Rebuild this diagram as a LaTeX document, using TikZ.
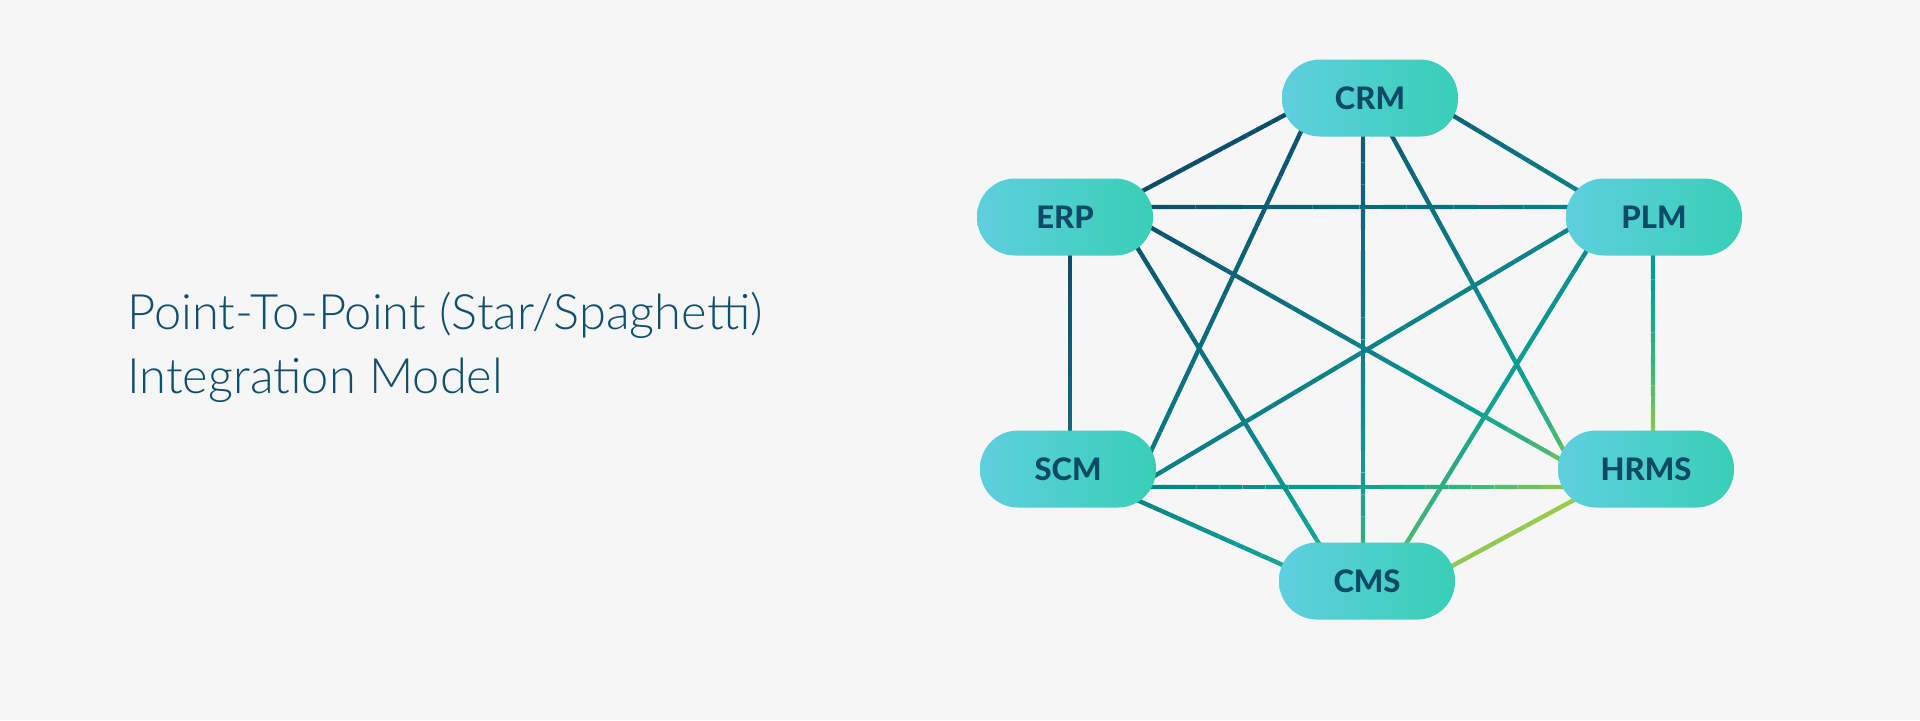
\documentclass[tikz,border=0pt]{standalone}
\usepackage{fontspec}
\setmainfont{Lato}
\newfontfamily\titlefont{Lato Light}
\newfontfamily\labelfont{Lato Heavy}
\usetikzlibrary{calc}

\definecolor{bgcol}{HTML}{F6F6F6}
\definecolor{ink}{HTML}{0C4A66}
\definecolor{titleink}{HTML}{10506C}
\definecolor{pillL}{HTML}{5ECFDF}
\definecolor{pillR}{HTML}{38CFB6}
% stops of the link gradient (top left to bottom right)
\definecolor{lnA}{HTML}{0B4A6A}
\definecolor{lnB}{HTML}{0B8088}
\definecolor{lnC}{HTML}{0AA096}
\definecolor{lnD}{HTML}{3CB47A}
\definecolor{lnE}{HTML}{8CC850}
\definecolor{lnF}{HTML}{9DCF4A}

\pgfdeclarelayer{bg}
\pgfdeclarelayer{edges}
\pgfsetlayers{bg,edges,main}

\tikzset{
  sysbox/.style={rectangle, rounded corners=19pt, minimum width=88pt,
    minimum height=38.5pt, inner sep=0pt, left color=pillL, right color=pillR,
    text=ink, font=\labelfont\fontsize{15.5pt}{18pt}\selectfont},
  link/.style={line width=2.2pt},
  heading/.style={anchor=base west, inner sep=0pt, text=titleink,
    font=\titlefont\fontsize{24.4pt}{32pt}\selectfont}
}

% position along the gradient: x + 1.5 y (in px, y down)
\newdimen\gx
\newdimen\gy
\newcommand\tvalof[2]{%
  \pgfextractx{\gx}{\pgfpointanchor{#1}{center}}%
  \pgfextracty{\gy}{\pgfpointanchor{#1}{center}}%
  \pgfmathsetmacro#2{2*\gx-3*\gy}}

\newcommand\segcolor[1]{%
  \pgfmathsetmacro\gtv{max(1420,min(2340,#1))}%
  \ifdim\gtv pt<1880pt
    \pgfmathsetmacro\gmix{(1880-\gtv)/460*100}\colorlet{segc}{lnA!\gmix!lnB}%
  \else\ifdim\gtv pt<2090pt
    \pgfmathsetmacro\gmix{(2090-\gtv)/210*100}\colorlet{segc}{lnB!\gmix!lnC}%
  \else\ifdim\gtv pt<2200pt
    \pgfmathsetmacro\gmix{(2200-\gtv)/110*100}\colorlet{segc}{lnC!\gmix!lnD}%
  \else\ifdim\gtv pt<2300pt
    \pgfmathsetmacro\gmix{(2300-\gtv)/100*100}\colorlet{segc}{lnD!\gmix!lnE}%
  \else
    \pgfmathsetmacro\gmix{(2340-\gtv)/40*100}\colorlet{segc}{lnE!\gmix!lnF}%
  \fi\fi\fi\fi}

% link from node #1 (+ offset #2) to node #3 (+ offset #4)
\newcommand\gradline[4]{%
  \coordinate (ga) at ($(#1)+(#2)$);
  \coordinate (gb) at ($(#3)+(#4)$);
  \tvalof{ga}\gta
  \tvalof{gb}\gtb
  \foreach \i in {1,...,20}{%
    \segcolor{\gta+(\gtb-\gta)/20*(\i-0.5)}
    \draw[link, draw=segc] ($(ga)!{(\i-1)/20}!(gb)$) -- ($(ga)!{\i/20}!(gb)$);
  }}

\begin{document}
\begin{tikzpicture}[x=0.5pt, y=-0.5pt]

% Background
\begin{pgfonlayer}{bg}
\fill[bgcol] (0,0) rectangle (1920,720);
\end{pgfonlayer}
\useasboundingbox (0,0) rectangle (1920,720);

% Title
\node[heading] (title1) at (127,329) {Point-To-Point (Star/Spaghetti)};
\node[heading] (title2) at (127,393) {Integration Model};

% Systems
\node[sysbox] (CRM)  at (1370,98)  {CRM};
\node[sysbox] (ERP)  at (1065,217) {ERP};
\node[sysbox] (PLM)  at (1654,217) {PLM};
\node[sysbox] (SCM)  at (1068,469) {SCM};
\node[sysbox] (HRMS) at (1646,469) {HRMS};
\node[sysbox] (CMS)  at (1367,581) {CMS};

% Every system linked to every other one
\begin{pgfonlayer}{edges}
\gradline{CRM}{-74,11}{ERP}{68,-21}
\gradline{CRM}{72,11}{PLM}{-67,-21}
\gradline{CRM}{-66,27}{SCM}{76,-3}
\gradline{CRM}{-7,20}{CMS}{-4,-20}
\gradline{CRM}{16,27}{HRMS}{-76,-7}
\gradline{ERP}{60,-10}{PLM}{-60,-10}
\gradline{ERP}{5,20}{SCM}{2,-20}
\gradline{ERP}{76,5}{HRMS}{-74,-3}
\gradline{ERP}{67,22}{CMS}{-41,-26}
\gradline{PLM}{-73,5}{SCM}{73,15}
\gradline{PLM}{-62,25}{CMS}{34,-29}
\gradline{PLM}{-1,20}{HRMS}{7,-20}
\gradline{SCM}{60,18}{HRMS}{-60,18}
\gradline{SCM}{60,27}{CMS}{-73,-11}
\gradline{HRMS}{-63,26}{CMS}{72,-8}
\end{pgfonlayer}

\end{tikzpicture}
\end{document}
